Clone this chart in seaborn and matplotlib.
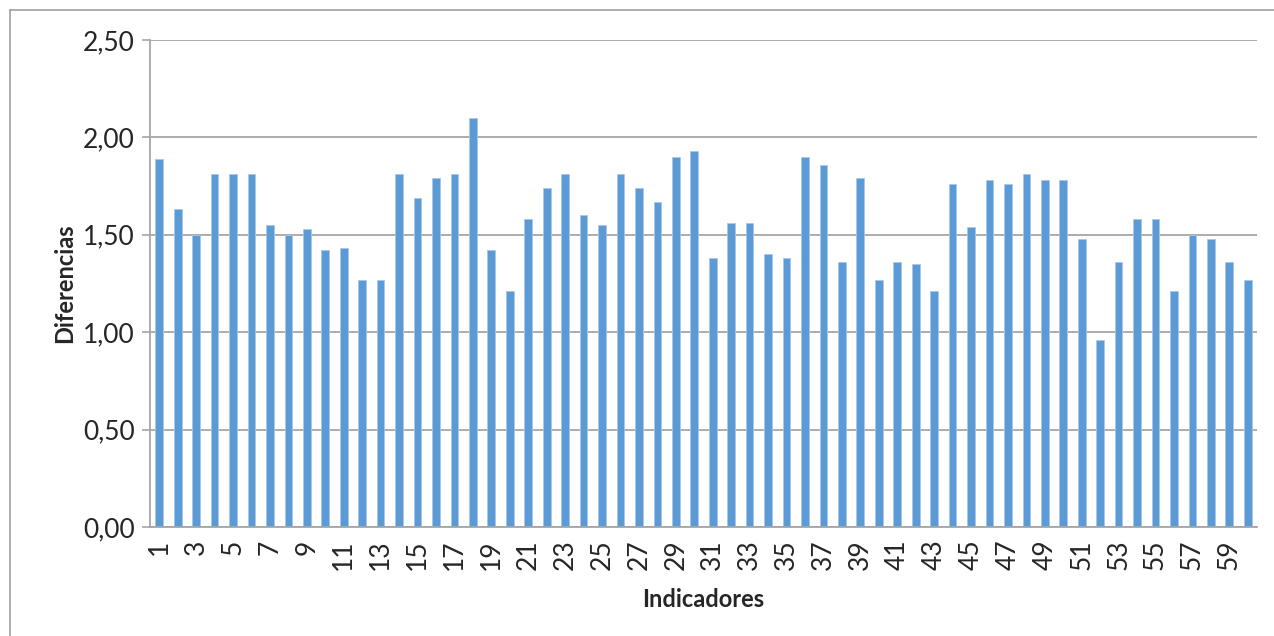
import matplotlib
matplotlib.use('Agg')
import matplotlib.pyplot as plt
from matplotlib.lines import Line2D
import seaborn as sns
import pandas as pd

# Datos
indicadores = list(range(1, 61))
diferencias = [1.89, 1.63, 1.50, 1.81, 1.81, 1.81, 1.55, 1.50, 1.53, 1.42,
               1.43, 1.27, 1.27, 1.81, 1.69, 1.79, 1.81, 2.10, 1.42, 1.21,
               1.58, 1.74, 1.81, 1.60, 1.55, 1.81, 1.74, 1.67, 1.90, 1.93,
               1.38, 1.56, 1.56, 1.40, 1.38, 1.90, 1.86, 1.36, 1.79, 1.27,
               1.36, 1.35, 1.21, 1.76, 1.54, 1.78, 1.76, 1.81, 1.78, 1.78,
               1.48, 0.96, 1.36, 1.58, 1.58, 1.21, 1.50, 1.48, 1.36, 1.27]
y_ticks = [0, 0.5, 1.0, 1.5, 2.0, 2.5]
y_labels = ['0,00', '0,50', '1,00', '1,50', '2,00', '2,50']

df = pd.DataFrame({'Indicadores': indicadores, 'Diferencias': diferencias})

sns.set_style('white')
plt.rcParams['font.family'] = ['Lato', 'DejaVu Sans']

fig = plt.figure(figsize=(12.74, 6.36), dpi=100)
ax = fig.add_axes([150/1274, 109/636, 1107/1274, 487/636])
ax.set_axisbelow(True)

sns.barplot(data=df, x='Indicadores', y='Diferencias', color='#5b9bd5',
            width=0.42, saturation=1, ax=ax, edgecolor='#a9c8ea', linewidth=0.6)

ax.set_ylim(0, 2.5)
ax.set_xlim(-0.5, 59.5)
ax.set_yticks(y_ticks)
ax.set_yticklabels(y_labels, fontsize=19)
ax.yaxis.grid(True, color='#a6a6a6', linewidth=1.3)

pos = list(range(0, 60, 2))
ax.set_xticks(pos)
ax.set_xticklabels([str(indicadores[i]) for i in pos], rotation=90, fontsize=19)
ax.tick_params(axis='x', length=0, pad=9)
ax.tick_params(axis='y', length=6, color='#a6a6a6', width=1.2, pad=5, left=True)

for s in ['top', 'right']:
    ax.spines[s].set_visible(False)
for s in ['left', 'bottom']:
    ax.spines[s].set_color('#a6a6a6')
    ax.spines[s].set_linewidth(1.3)

ax.set_xlabel('Indicadores', fontsize=17, fontweight='bold', labelpad=13)
ax.set_ylabel('Diferencias', fontsize=17, fontweight='bold', labelpad=5)

# borde del area del grafico
fig.add_artist(Line2D([10/1274, 1], [1 - 10/636, 1 - 10/636], color='#a0a0a0', lw=1.2))
fig.add_artist(Line2D([10/1274, 10/1274], [0, 1 - 10/636], color='#a0a0a0', lw=1.2))

fig.savefig('out.png', dpi=100)
